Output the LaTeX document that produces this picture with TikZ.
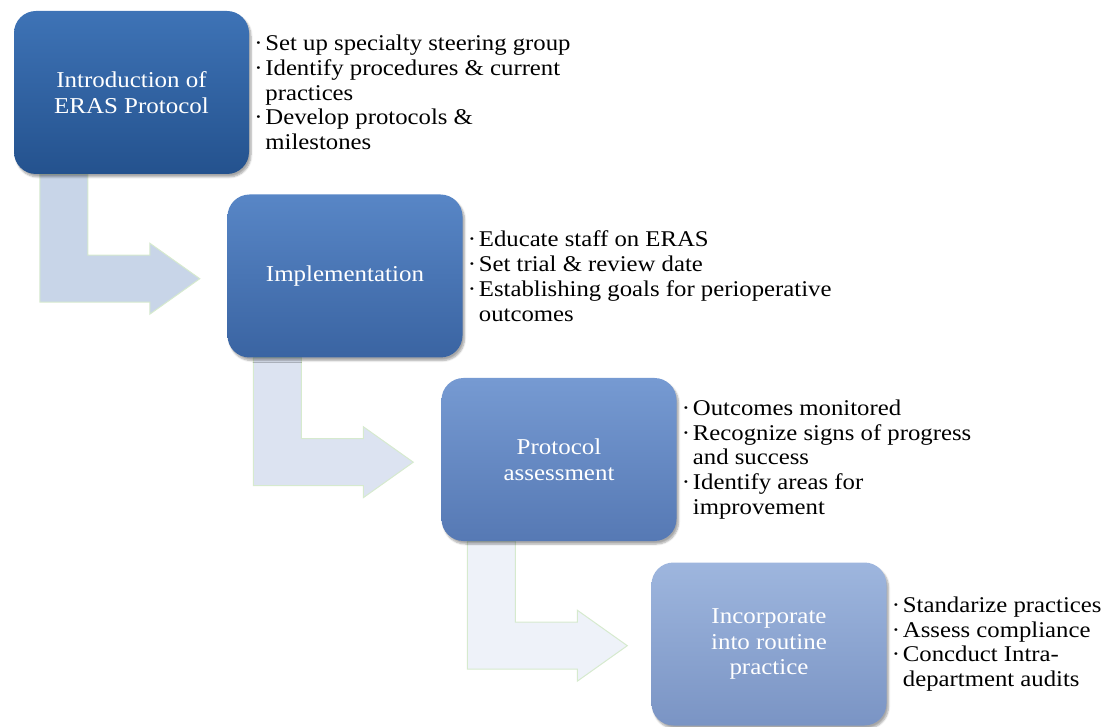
\documentclass[tikz,border=0pt]{standalone}
\usepackage{fontspec}
\setmainfont{Liberation Serif}[FakeStretch=1.1]
\usetikzlibrary{positioning,calc,backgrounds,shadows.blur}
\definecolor{StepAtop}{RGB}{62,115,182}
\definecolor{StepAbot}{RGB}{36,82,142}
\definecolor{StepBtop}{RGB}{88,134,198}
\definecolor{StepBbot}{RGB}{58,100,162}
\definecolor{StepCtop}{RGB}{118,154,210}
\definecolor{StepCbot}{RGB}{86,121,180}
\definecolor{StepDtop}{RGB}{158,182,222}
\definecolor{StepDbot}{RGB}{122,148,196}
\definecolor{FlowA}{RGB}{200,213,232}
\definecolor{FlowB}{RGB}{220,227,241}
\definecolor{FlowC}{RGB}{238,242,249}
\definecolor{FlowEdge}{RGB}{214,234,206}
\tikzset{
  stepbox/.style={rounded corners=22pt,minimum width=235pt,minimum height=163pt,
                  inner sep=0pt,align=center,text=white,
                  font=\fontsize{22.7}{25.5}\selectfont,
                  blur shadow={shadow xshift=2pt,shadow yshift=-3pt,
                               shadow blur steps=6,shadow opacity=35}},
  notes/.style={inner sep=0pt,align=left,font=\fontsize{22.5}{24.8}\selectfont},
  flow/.style={draw=FlowEdge,line width=1pt,line join=miter},
}
\newcommand{\bul}{\makebox[11pt][l]{\textperiodcentered}}
\newcommand{\ind}{\hspace*{11pt}}

\begin{document}
\begin{tikzpicture}[x=1pt,y=-1pt]
  \useasboundingbox (0,0) rectangle (1104,727);
  % the four steps
  \node[stepbox,top color=StepAtop,bottom color=StepAbot] (intro) at (131.5,92.5) {Introduction of\\ERAS Protocol};
  \node[stepbox,top color=StepBtop,bottom color=StepBbot] (impl) at (345,276) {Implementation};
  \node[stepbox,top color=StepCtop,bottom color=StepCbot] (assess) at (559,459.5) {Protocol\\assessment};
  \node[stepbox,top color=StepDtop,bottom color=StepDbot] (routine) at (769,644) {Incorporate\\into routine\\practice};
  % what each step covers
  \node[notes,right=5pt of intro] (introtxt) {\bul Set up specialty steering group\\
    \bul Identify procedures \& current\\\ind practices\\
    \bul Develop protocols \&\\\ind milestones};
  \node[notes,right=5pt of impl] (impltxt) {\bul Educate staff on ERAS\\
    \bul Set trial \& review date\\
    \bul Establishing goals for perioperative\\\ind outcomes};
  \node[notes,right=5pt of assess] (assesstxt) {\bul Outcomes monitored\\
    \bul Recognize signs of progress\\\ind and success\\
    \bul Identify areas for\\\ind improvement};
  \node[notes,right=5pt of routine] (routinetxt) {\bul Standarize practices\\
    \bul Assess compliance\\
    \bul Concduct Intra-\\\ind department audits};
  % bent arrows behind the boxes
  \begin{scope}[on background layer]
    \draw[flow,fill=FlowA] ($(intro.south west)+(26,0)$) -- ++(48,0) -- ++(0,81) -- ++(62,0) -- ++(0,-12)
      -- ++(50,35.5) -- ++(-50,35.5) -- ++(0,-12) -- ++(-110,0) -- cycle;
    \draw[flow,fill=FlowB] ($(impl.south west)+(26,0)$) -- ++(48,0) -- ++(0,81) -- ++(62,0) -- ++(0,-12)
      -- ++(50,35.5) -- ++(-50,35.5) -- ++(0,-12) -- ++(-110,0) -- cycle;
    \draw[flow,fill=FlowC] ($(assess.south west)+(26,0)$) -- ++(48,0) -- ++(0,81) -- ++(62,0) -- ++(0,-12)
      -- ++(50,35.5) -- ++(-50,35.5) -- ++(0,-12) -- ++(-110,0) -- cycle;
  \end{scope}
\end{tikzpicture}
\end{document}
